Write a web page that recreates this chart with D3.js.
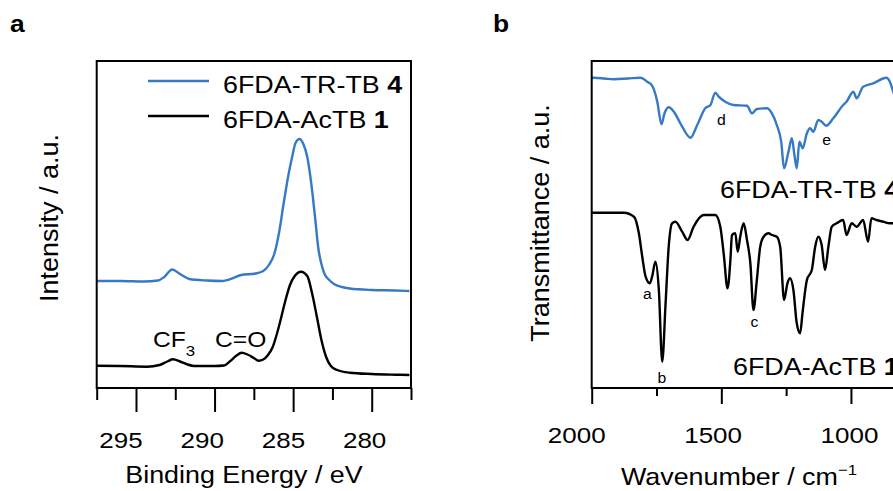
<!DOCTYPE html>
<html>
<head>
<meta charset="utf-8">
<script src="https://cdn.jsdelivr.net/npm/d3@7"></script>
<style>
body { margin: 0; background: #fff; }
svg { display: block; font-family: "Liberation Sans", Arial, Helvetica, sans-serif; }
</style>
</head>
<body>
<div id="chart"></div>
<script>
// panel a: XPS C1s, binding energy (eV) vs intensity (a.u.)
const xpsEnergyTR = [297.5, 296, 294.5, 293.6, 293.2, 292.7, 292.2, 291.6, 290.5, 289.5, 288.8, 288.3, 287.4, 286.9, 286.5, 286.2, 285.9, 285.6, 285.3, 285.05, 284.85, 284.6, 284.35, 284.1, 283.85, 283.6, 283.4, 283.2, 283.0, 282.7, 282.4, 281.9, 281.4, 280.0, 278.5, 277.6]
const xpsIntensityTR = [107, 107, 106.5, 107.5, 111, 118.5, 114, 109, 107.5, 107, 110, 113, 114.5, 117, 124, 134, 155, 185, 213, 232, 245, 249, 244, 231, 205, 170, 140, 124, 114, 108, 104, 101, 99.5, 98, 97.5, 97]

const xpsEnergyAc = [297.5, 296, 294.3, 293.5, 293.0, 292.65, 292.2, 291.8, 291.3, 290.0, 289.4, 289.0, 288.6, 288.28, 287.9, 287.5, 287.2, 286.9, 286.6, 286.3, 286.0, 285.8, 285.5, 285.2, 284.9, 284.5, 284.1, 283.8, 283.5, 283.2, 282.9, 282.6, 282.2, 281.4, 280.0, 278.5, 277.6]
const xpsIntensityAc = [22.3, 22, 21.3, 23, 26.5, 28.7, 26.5, 24, 22, 22, 22.5, 27, 32.5, 35.3, 33.5, 30, 27.3, 28.5, 33, 41, 56, 68, 87, 103, 112, 116.3, 112, 95, 72, 48, 31, 22, 18, 15.3, 14, 13.3, 13]

const xpsTicks = [297.5, 295, 292.5, 290, 287.5, 285, 282.5, 280, 277.5]
const xpsTickLabels = [295, 290, 285, 280]

// panel b: FTIR, wavenumber (cm-1) vs transmittance (a.u.)
const irWaveTR = [2000, 1991, 1950, 1914, 1860, 1812, 1786, 1767, 1747, 1731, 1719, 1703, 1683, 1658, 1619, 1593, 1562, 1542, 1523, 1510, 1485, 1453, 1401, 1382, 1363, 1324, 1305, 1286, 1269, 1258, 1241, 1228, 1218, 1209, 1199, 1186, 1170, 1158, 1145, 1126, 1113, 1096, 1068, 1030, 1017, 991, 978, 953, 914, 863, 850, 837, 800]
const irTransTR = [310, 310.3, 309.5, 308.7, 309.5, 310.3, 306.3, 302.3, 286.3, 263.7, 274.7, 280.7, 276.3, 264.7, 250.3, 263, 279.7, 283, 295.3, 291.3, 286.3, 283, 282.3, 274.7, 279, 279.7, 274.7, 263, 246.3, 219.7, 236.3, 249.7, 233, 219.7, 246.3, 239.7, 254.7, 259.7, 256.3, 268, 266.3, 262.3, 269.7, 283, 286.3, 296.3, 289.7, 301.3, 304.7, 310.3, 306.3, 296.3, 260]

const irWaveAc = [2000, 1991, 1876, 1837, 1818, 1805, 1792, 1776, 1767, 1754, 1741, 1728, 1715, 1703, 1690, 1677, 1651, 1630, 1607, 1568, 1523, 1504, 1491, 1476, 1465, 1459, 1446, 1437, 1427, 1414, 1401, 1388, 1376, 1363, 1350, 1337, 1318, 1305, 1286, 1273, 1258, 1245, 1235, 1222, 1209, 1196, 1187, 1170, 1151, 1138, 1126, 1113, 1100, 1087, 1074, 1055, 1030, 1017, 997, 978, 953, 934, 921, 902, 876, 850, 800]
const irTransAc = [175.3, 175.3, 175.3, 171.3, 154.7, 131.3, 111.3, 104.7, 111.3, 126.3, 98, 26.3, 84.7, 141.3, 164.7, 166.3, 156.3, 148, 161.3, 173, 173, 161.3, 134.7, 99.7, 128, 153, 154.7, 136.3, 151.3, 164.7, 148, 124.7, 78, 108, 141.3, 151.3, 154.7, 153, 151.3, 141.3, 88, 104.7, 109.7, 98, 64.7, 54.7, 74.7, 108, 118, 141.3, 151.3, 143, 118, 141.3, 161.3, 164.7, 168, 153, 164.7, 161.3, 168, 146.3, 169.7, 168, 166.3, 164.7, 165]

const irTicks = [2000, 1750, 1500, 1250, 1000]
const irTickLabels = [2000, 1500, 1000]

// peak letters on the IR spectra: [letter, wavenumber, transmittance]
const irPeakLetters = [["a", 1785, 89], ["b", 1729, 5], ["c", 1372, 61], ["d", 1500, 263.5], ["e", 1094, 243.5]]

const seriesNames = ["6FDA-TR-TB ", "6FDA-AcTB "]
const seriesNumbers = ["4", "1"]
const blue = "#3679c4"

const width = 893, height = 491
const svg = d3.select("#chart").append("svg")
    .attr("width", width)
    .attr("height", height)

// text in the figure is a little wider than Arial, so stretch it horizontally
function addText(parent, x, y, parts, opts) {
    opts = opts || {}
    const g = parent.append("g")
        .attr("transform", `translate(${x},${y}) rotate(${opts.rotate || 0}) scale(${opts.sx || 1.12},1)`)
    const t = g.append("text")
        .attr("text-anchor", opts.anchor || "start")
        .attr("font-size", opts.size || 24)
        .attr("font-weight", opts.bold ? "bold" : null)
    parts.forEach(p => {
        if (typeof p === "string") p = { text: p }
        t.append("tspan")
            .text(p.text)
            .attr("font-weight", p.bold ? "bold" : null)
            .attr("font-size", p.size || null)
            .attr("dy", p.dy || null)
    })
    return t
}

const plotTop = 61, plotBottom = 388

// ---------- panel a ----------
const xA = d3.scaleLinear().domain([297.5, 277.5]).range([96.7, 411])
const yA = d3.scaleLinear().domain([0, 327]).range([plotBottom, plotTop])

const lineA = d3.line()
    .x(d => xA(d[0]))
    .y(d => yA(d[1]))
    .curve(d3.curveMonotoneX)

svg.append("path")
    .datum(d3.zip(xpsEnergyTR, xpsIntensityTR))
    .attr("fill", "none")
    .attr("stroke", blue)
    .attr("stroke-width", 2.4)
    .attr("stroke-linejoin", "round")
    .attr("d", lineA)

svg.append("path")
    .datum(d3.zip(xpsEnergyAc, xpsIntensityAc))
    .attr("fill", "none")
    .attr("stroke", "#000")
    .attr("stroke-width", 2.4)
    .attr("stroke-linejoin", "round")
    .attr("d", lineA)

svg.append("rect")
    .attr("x", xA.range()[0]).attr("y", plotTop)
    .attr("width", xA.range()[1] - xA.range()[0]).attr("height", plotBottom - plotTop)
    .attr("fill", "none").attr("stroke", "#000").attr("stroke-width", 2)

const axisA = svg.append("g")
    .attr("transform", `translate(0,${plotBottom})`)
    .call(d3.axisBottom(xA).tickValues(xpsTicks).tickSizeOuter(0).tickFormat(""))
axisA.select(".domain").remove()
axisA.selectAll(".tick line")
    .attr("y2", d => d % 5 === 0 ? 24 : 12)
    .attr("stroke-width", 2)

xpsTickLabels.forEach(v => {
    addText(svg, xA(v) - 15 + (295 - v) * 0.53, 448, [String(v)], { anchor: "middle", size: 22, sx: 1.18 })
})

addText(svg, 244, 483, ["Binding Energy / eV"], { anchor: "middle" })
addText(svg, 58, 218, ["Intensity / a.u."], { anchor: "middle", rotate: -90, size: 25, sx: 1.08 })

// peak annotations
addText(svg, 153, 347, ["CF", { text: "3", size: 15, dy: 9 }], { size: 22 })
addText(svg, 215, 347, ["C=O"], { size: 22 })

// legend
const legendY = [81, 116]
const legendColors = [blue, "#000"]
legendY.forEach((ly, i) => {
    svg.append("line")
        .attr("x1", 148).attr("x2", 209)
        .attr("y1", ly).attr("y2", ly)
        .attr("stroke", legendColors[i]).attr("stroke-width", 2.4)
    addText(svg, 223, ly + 11.5, [seriesNames[i], { text: seriesNumbers[i], bold: true }])
})

addText(svg, 10, 32, ["a"], { bold: true, size: 24, sx: 1.1 })

// ---------- panel b ----------
const xB = d3.scaleLinear().domain([2000, 800]).range([591.7, 902.8])
const yB = d3.scaleLinear().domain([0, 327]).range([plotBottom, plotTop])

const lineB = d3.line()
    .x(d => xB(d[0]))
    .y(d => yB(d[1]))
    .curve(d3.curveMonotoneX)

svg.append("path")
    .datum(d3.zip(irWaveTR, irTransTR))
    .attr("fill", "none")
    .attr("stroke", blue)
    .attr("stroke-width", 2.4)
    .attr("stroke-linejoin", "round")
    .attr("d", lineB)

svg.append("path")
    .datum(d3.zip(irWaveAc, irTransAc))
    .attr("fill", "none")
    .attr("stroke", "#000")
    .attr("stroke-width", 2.4)
    .attr("stroke-linejoin", "round")
    .attr("d", lineB)

svg.append("rect")
    .attr("x", xB.range()[0]).attr("y", plotTop)
    .attr("width", xB.range()[1] - xB.range()[0]).attr("height", plotBottom - plotTop)
    .attr("fill", "none").attr("stroke", "#000").attr("stroke-width", 2)

const axisB = svg.append("g")
    .attr("transform", `translate(0,${plotBottom})`)
    .call(d3.axisBottom(xB).tickValues(irTicks).tickSizeOuter(0).tickFormat(""))
axisB.select(".domain").remove()
axisB.selectAll(".tick line")
    .attr("y2", d => d % 500 === 0 ? 16 : 8)
    .attr("stroke-width", 2)

irTickLabels.forEach(v => {
    addText(svg, xB(v) - 15 + (2000 - v) * 0.0135, 443, [String(v)], { anchor: "middle", size: 22, sx: 1.18 })
})

addText(svg, 739, 485, ["Wavenumber / cm", { text: "\u22121", size: 15, dy: -10 }], { anchor: "middle" })
addText(svg, 549, 223, ["Transmittance / a.u."], { anchor: "middle", rotate: -90, size: 25, sx: 1.08 })

irPeakLetters.forEach(p => {
    addText(svg, xB(p[1]), yB(p[2]), [p[0]], { anchor: "middle", size: 15, sx: 1.05 })
})

addText(svg, 720, 198, [seriesNames[0], { text: seriesNumbers[0], bold: true }])
addText(svg, 733, 375, [seriesNames[1], { text: seriesNumbers[1], bold: true }])

addText(svg, 493, 32, ["b"], { bold: true, size: 24, sx: 1.1 })
</script>
</body>
</html>
